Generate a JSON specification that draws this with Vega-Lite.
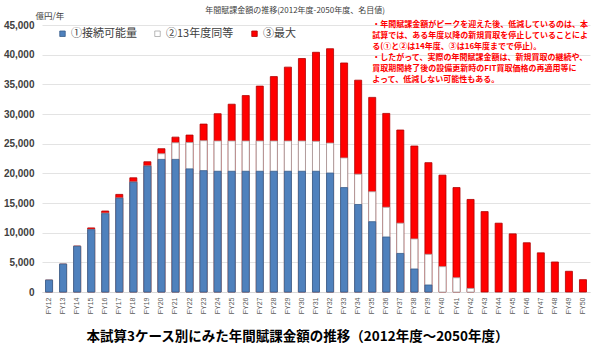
{
  "$schema": "https://vega.github.io/schema/vega-lite/v6.json",
  "width": 548,
  "height": 267,
  "autosize": {"type": "none"},
  "padding": {"left": 42, "top": 25, "right": 3, "bottom": 58},
  "background": "white",
  "config": {"font": "Noto Sans CJK JP", "view": {"stroke": null}},
  "title": {"text": "年間賦課金額の推移(2012年度-2050年度、名目値)", "fontSize": 8, "fontWeight": "normal", "color": "#404040", "anchor": "middle", "frame": "group", "baseline": "alphabetic", "offset": -10, "dx": -21},
  "datasets": {
    "bars": [
      {"year": "FY12", "series": "①接続可能量", "value": 2000}, {"year": "FY12", "series": "②13年度同等", "value": 2000}, {"year": "FY12", "series": "③最大", "value": 2000},
      {"year": "FY13", "series": "①接続可能量", "value": 4700}, {"year": "FY13", "series": "②13年度同等", "value": 4700}, {"year": "FY13", "series": "③最大", "value": 4700},
      {"year": "FY14", "series": "①接続可能量", "value": 7700}, {"year": "FY14", "series": "②13年度同等", "value": 7700}, {"year": "FY14", "series": "③最大", "value": 7750},
      {"year": "FY15", "series": "①接続可能量", "value": 10500}, {"year": "FY15", "series": "②13年度同等", "value": 10550}, {"year": "FY15", "series": "③最大", "value": 10800},
      {"year": "FY16", "series": "①接続可能量", "value": 13200}, {"year": "FY16", "series": "②13年度同等", "value": 13300}, {"year": "FY16", "series": "③最大", "value": 13650},
      {"year": "FY17", "series": "①接続可能量", "value": 15800}, {"year": "FY17", "series": "②13年度同等", "value": 15850}, {"year": "FY17", "series": "③最大", "value": 16450},
      {"year": "FY18", "series": "①接続可能量", "value": 18500}, {"year": "FY18", "series": "②13年度同等", "value": 18550}, {"year": "FY18", "series": "③最大", "value": 19250},
      {"year": "FY19", "series": "①接続可能量", "value": 21200}, {"year": "FY19", "series": "②13年度同等", "value": 21250}, {"year": "FY19", "series": "③最大", "value": 21950},
      {"year": "FY20", "series": "①接続可能量", "value": 22350}, {"year": "FY20", "series": "②13年度同等", "value": 23300}, {"year": "FY20", "series": "③最大", "value": 24150},
      {"year": "FY21", "series": "①接続可能量", "value": 22350}, {"year": "FY21", "series": "②13年度同等", "value": 25150}, {"year": "FY21", "series": "③最大", "value": 26100},
      {"year": "FY22", "series": "①接続可能量", "value": 20750}, {"year": "FY22", "series": "②13年度同等", "value": 25200}, {"year": "FY22", "series": "③最大", "value": 26450},
      {"year": "FY23", "series": "①接続可能量", "value": 20450}, {"year": "FY23", "series": "②13年度同等", "value": 25500}, {"year": "FY23", "series": "③最大", "value": 28300},
      {"year": "FY24", "series": "①接続可能量", "value": 20350}, {"year": "FY24", "series": "②13年度同等", "value": 25450}, {"year": "FY24", "series": "③最大", "value": 30050},
      {"year": "FY25", "series": "①接続可能量", "value": 20350}, {"year": "FY25", "series": "②13年度同等", "value": 25450}, {"year": "FY25", "series": "③最大", "value": 31650},
      {"year": "FY26", "series": "①接続可能量", "value": 20350}, {"year": "FY26", "series": "②13年度同等", "value": 25450}, {"year": "FY26", "series": "③最大", "value": 33100},
      {"year": "FY27", "series": "①接続可能量", "value": 20350}, {"year": "FY27", "series": "②13年度同等", "value": 25450}, {"year": "FY27", "series": "③最大", "value": 34700},
      {"year": "FY28", "series": "①接続可能量", "value": 20350}, {"year": "FY28", "series": "②13年度同等", "value": 25450}, {"year": "FY28", "series": "③最大", "value": 36300},
      {"year": "FY29", "series": "①接続可能量", "value": 20350}, {"year": "FY29", "series": "②13年度同等", "value": 25450}, {"year": "FY29", "series": "③最大", "value": 37900},
      {"year": "FY30", "series": "①接続可能量", "value": 20350}, {"year": "FY30", "series": "②13年度同等", "value": 25450}, {"year": "FY30", "series": "③最大", "value": 39350},
      {"year": "FY31", "series": "①接続可能量", "value": 20350}, {"year": "FY31", "series": "②13年度同等", "value": 25400}, {"year": "FY31", "series": "③最大", "value": 40400},
      {"year": "FY32", "series": "①接続可能量", "value": 20050}, {"year": "FY32", "series": "②13年度同等", "value": 25100}, {"year": "FY32", "series": "③最大", "value": 41000},
      {"year": "FY33", "series": "①接続可能量", "value": 17600}, {"year": "FY33", "series": "②13年度同等", "value": 22600}, {"year": "FY33", "series": "③最大", "value": 38600},
      {"year": "FY34", "series": "①接続可能量", "value": 14750}, {"year": "FY34", "series": "②13年度同等", "value": 19850}, {"year": "FY34", "series": "③最大", "value": 35700},
      {"year": "FY35", "series": "①接続可能量", "value": 11850}, {"year": "FY35", "series": "②13年度同等", "value": 16900}, {"year": "FY35", "series": "③最大", "value": 32800},
      {"year": "FY36", "series": "①接続可能量", "value": 9270}, {"year": "FY36", "series": "②13年度同等", "value": 14280}, {"year": "FY36", "series": "③最大", "value": 30100},
      {"year": "FY37", "series": "①接続可能量", "value": 6500}, {"year": "FY37", "series": "②13年度同等", "value": 11600}, {"year": "FY37", "series": "③最大", "value": 27300},
      {"year": "FY38", "series": "①接続可能量", "value": 3880}, {"year": "FY38", "series": "②13年度同等", "value": 8940}, {"year": "FY38", "series": "③最大", "value": 24600},
      {"year": "FY39", "series": "①接続可能量", "value": 1180}, {"year": "FY39", "series": "②13年度同等", "value": 6350}, {"year": "FY39", "series": "③最大", "value": 21800},
      {"year": "FY40", "series": "②13年度同等", "value": 4270}, {"year": "FY40", "series": "③最大", "value": 19700},
      {"year": "FY41", "series": "②13年度同等", "value": 2400}, {"year": "FY41", "series": "③最大", "value": 17600},
      {"year": "FY42", "series": "②13年度同等", "value": 600}, {"year": "FY42", "series": "③最大", "value": 15600},
      {"year": "FY43", "series": "③最大", "value": 13550},
      {"year": "FY44", "series": "③最大", "value": 11600},
      {"year": "FY45", "series": "③最大", "value": 9800},
      {"year": "FY46", "series": "③最大", "value": 8300},
      {"year": "FY47", "series": "③最大", "value": 6600},
      {"year": "FY48", "series": "③最大", "value": 5060},
      {"year": "FY49", "series": "③最大", "value": 3490},
      {"year": "FY50", "series": "③最大", "value": 2080}
    ]
  },
  "layer": [
    {
      "data": {"name": "bars"},
      "mark": {"type": "bar", "strokeWidth": 0.8},
      "encoding": {
        "x": {
          "field": "year", "type": "nominal", "sort": null,
          "scale": {"paddingInner": 0.5, "paddingOuter": 0.25},
          "axis": {
            "title": "本試算3ケース別にみた年間賦課金額の推移（2012年度～2050年度）",
            "titleFontSize": 13.5, "titleFontWeight": "bold", "titleColor": "#000000", "titlePadding": 16, "titleX": 255,
            "labelAngle": -90, "labelFontSize": 7, "labelColor": "#595959", "labelFont": "Liberation Sans", "labelPadding": 5,
            "ticks": false, "domainColor": "#D9D9D9", "grid": false
          }
        },
        "y": {
          "field": "value", "type": "quantitative", "stack": null,
          "scale": {"domain": [0, 45000], "nice": false},
          "axis": {
            "title": "億円/年", "titleAngle": 0, "titleAlign": "left", "titleBaseline": "middle", "titleX": -7, "titleY": -10,
            "titleFontSize": 8.5, "titleFontWeight": "normal", "titleColor": "#404040",
            "labelFont": "Liberation Sans", "labelFontWeight": "bold", "labelFontSize": 10, "labelColor": "#404040", "labelPadding": 8,
            "labelOverlap": false, "labelBound": false, "tickCount": 20,
            "ticks": false, "domain": false, "gridColor": "#E3E3E3",
            "values": [0, 5000, 10000, 15000, 20000, 25000, 30000, 35000, 40000, 45000], "format": ",.0f"
          }
        },
        "fill": {
          "field": "series", "type": "nominal",
          "scale": {"domain": ["①接続可能量", "②13年度同等", "③最大"], "range": ["#4F81BD", "#FFFFFF", "#FF0000"]},
          "legend": {"orient": "none", "legendX": 15, "legendY": 3, "direction": "horizontal", "title": null, "symbolType": "square", "symbolSize": 30, "symbolStrokeWidth": 0.8, "labelFontSize": 11, "labelColor": "#404040", "columnPadding": 15, "labelOffset": 3, "padding": 0}
        },
        "stroke": {
          "field": "series", "type": "nominal",
          "scale": {"domain": ["①接続可能量", "②13年度同等", "③最大"], "range": ["#385D8A", "#A6A6A6", "#B00000"]},
          "legend": {"orient": "none", "legendX": 15, "legendY": 3, "direction": "horizontal", "title": null, "symbolType": "square", "symbolSize": 30, "symbolStrokeWidth": 0.8, "labelFontSize": 11, "labelColor": "#404040", "columnPadding": 15, "labelOffset": 3, "padding": 0}
        },
        "order": {"field": "series", "sort": "descending"}
      }
    },
    {
      "data": {"values": [{}]},
      "mark": {
        "type": "text", "align": "left", "baseline": "middle", "fontSize": 8, "fontWeight": "bold", "color": "#FF0000", "lineHeight": 11,
        "text": [
          "・年間賦課金額がピークを迎えた後、低減しているのは、本",
          "試算では、ある年度以降の新規買取を停止していることによ",
          "る(①と②は14年度、③は16年度までで停止)。",
          "・したがって、実際の年間賦課金額は、新規買取の継続や、",
          "買取期間終了後の設備更新時のFIT買取価格の再適用等に",
          "よって、低減しない可能性もある。"
        ]
      },
      "encoding": {
        "x": {"datum": "FY35", "axis": {
            "title": "本試算3ケース別にみた年間賦課金額の推移（2012年度～2050年度）",
            "titleFontSize": 13.5, "titleFontWeight": "bold", "titleColor": "#000000", "titlePadding": 16, "titleX": 255,
            "labelAngle": -90, "labelFontSize": 7, "labelColor": "#595959", "labelFont": "Liberation Sans", "labelPadding": 5,
            "ticks": false, "domainColor": "#D9D9D9", "grid": false
          }},
        "y": {"datum": 45000, "axis": {
            "title": "億円/年", "titleAngle": 0, "titleAlign": "left", "titleBaseline": "middle", "titleX": -7, "titleY": -10,
            "titleFontSize": 8.5, "titleFontWeight": "normal", "titleColor": "#404040",
            "labelFont": "Liberation Sans", "labelFontWeight": "bold", "labelFontSize": 10, "labelColor": "#404040", "labelPadding": 8,
            "labelOverlap": false, "labelBound": false, "tickCount": 20,
            "ticks": false, "domain": false, "gridColor": "#E3E3E3",
            "values": [0, 5000, 10000, 15000, 20000, 25000, 30000, 35000, 40000, 45000], "format": ",.0f"
          }}
      }
    }
  ]
}
